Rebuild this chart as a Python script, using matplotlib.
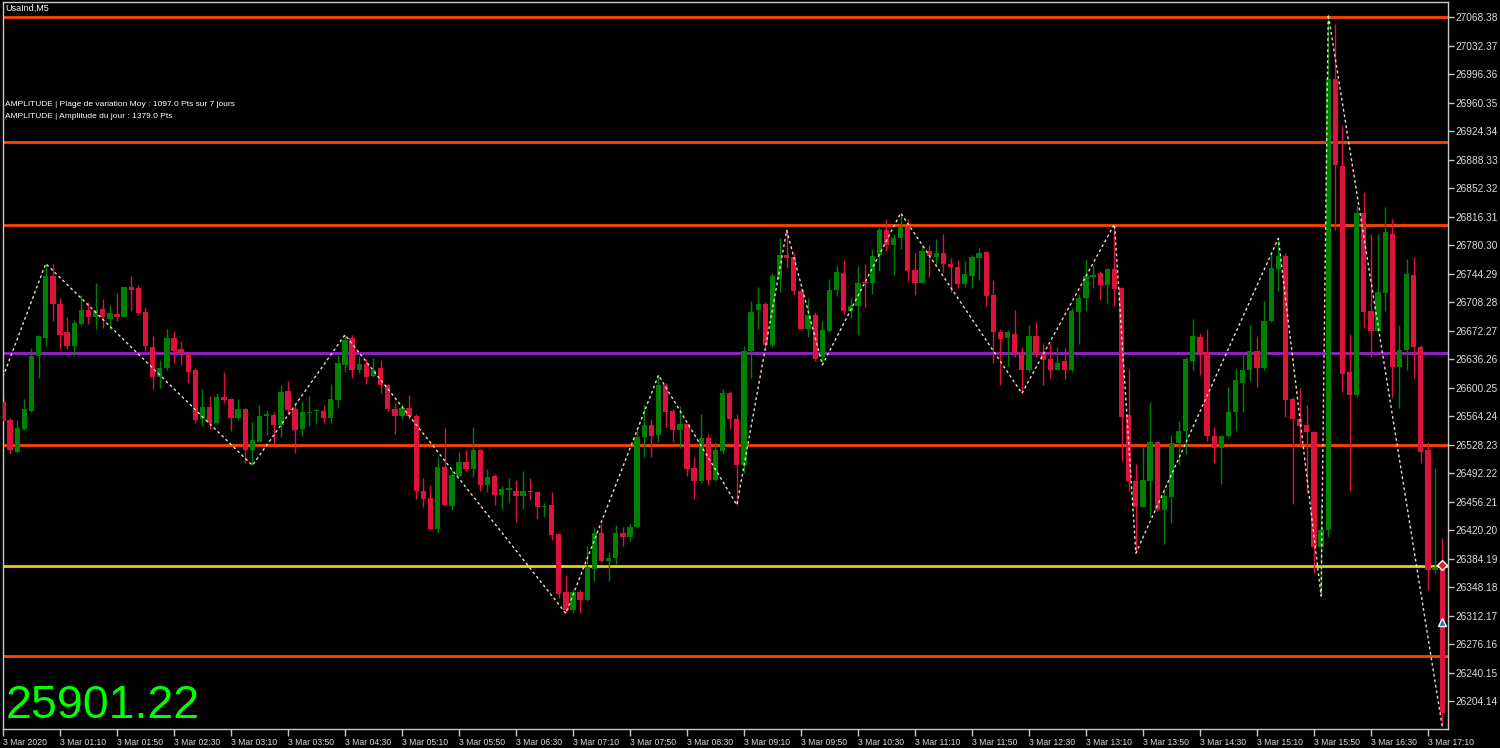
import numpy as np
import matplotlib
matplotlib.use("Agg")
import matplotlib.pyplot as plt

# bougies M5 UsaInd du 3 mars 2020
opens = [26582, 26559, 26519, 26548, 26571, 26640, 26663, 26741, 26706, 26670,
         26653, 26681, 26698, 26689, 26700, 26687, 26693, 26690, 26727, 26726,
         26696, 26652, 26614, 26625, 26663, 26649, 26643, 26623, 26560, 26576,
         26556, 26588, 26586, 26562, 26573, 26521, 26532, 26564, 26566, 26553,
         26596, 26573, 26548, 26568, 26571, 26571, 26562, 26584, 26629, 26663,
         26623, 26630, 26615, 26625, 26603, 26573, 26564, 26574, 26564, 26470,
         26461, 26422, 26500, 26451, 26489, 26506, 26498, 26521, 26477, 26488,
         26464, 26471, 26470, 26463, 26470, 26468, 26449, 26452, 26415, 26342,
         26319, 26342, 26332, 26371, 26416, 26381, 26385, 26416, 26411, 26424,
         26538, 26553, 26540, 26603, 26571, 26547, 26554, 26499, 26482, 26537,
         26483, 26520, 26593, 26561, 26502, 26646, 26698, 26706, 26654, 26738,
         26768, 26765, 26723, 26675, 26692, 26639, 26672, 26724, 26745, 26697,
         26703, 26734, 26733, 26768, 26799, 26781, 26789, 26803, 26749, 26733,
         26773, 26766, 26771, 26756, 26753, 26731, 26741, 26764, 26772, 26717,
         26670, 26663, 26668, 26644, 26622, 26666, 26644, 26636, 26623, 26634,
         26622, 26696, 26714, 26740, 26745, 26730, 26750, 26726, 26566, 26482,
         26450, 26482, 26532, 26446, 26462, 26530, 26545, 26634, 26664, 26645,
         26539, 26524, 26539, 26569, 26606, 26622, 26647, 26625, 26684, 26750,
         26767, 26586, 26561, 26553, 26544, 26399, 26420, 26990, 26880, 26620,
         26591, 26821, 26697, 26672, 26720, 26794, 26626, 26648, 26742, 26651,
         26521, 26370, 26375]
highs = [26590, 26562, 26559, 26586, 26650, 26667, 26757, 26757, 26714, 26689,
         26686, 26717, 26709, 26733, 26712, 26705, 26720, 26728, 26741, 26730,
         26702, 26665, 26635, 26674, 26672, 26659, 26644, 26625, 26598, 26590,
         26594, 26620, 26587, 26586, 26574, 26557, 26578, 26572, 26569, 26603,
         26609, 26579, 26583, 26590, 26573, 26578, 26605, 26642, 26667, 26667,
         26640, 26636, 26638, 26635, 26605, 26581, 26579, 26591, 26567, 26486,
         26477, 26512, 26549, 26496, 26519, 26521, 26550, 26523, 26498, 26491,
         26476, 26486, 26483, 26495, 26486, 26470, 26454, 26468, 26416, 26363,
         26346, 26344, 26400, 26424, 26428, 26392, 26427, 26424, 26428, 26550,
         26578, 26560, 26616, 26606, 26573, 26577, 26556, 26512, 26567, 26542,
         26531, 26599, 26596, 26567, 26653, 26710, 26727, 26709, 26745, 26790,
         26799, 26771, 26726, 26714, 26696, 26685, 26737, 26754, 26762, 26714,
         26754, 26756, 26776, 26803, 26813, 26795, 26821, 26813, 26770, 26781,
         26780, 26788, 26795, 26764, 26762, 26760, 26768, 26777, 26773, 26736,
         26675, 26673, 26698, 26652, 26679, 26683, 26657, 26656, 26651, 26650,
         26701, 26719, 26763, 26755, 26748, 26751, 26807, 26728, 26624, 26504,
         26525, 26582, 26533, 26474, 26541, 26558, 26639, 26687, 26669, 26675,
         26551, 26540, 26601, 26625, 26641, 26679, 26664, 26710, 26770, 26789,
         26771, 26589, 26600, 26578, 26545, 26453, 27072, 27060, 26932, 26668,
         26831, 26847, 26794, 26795, 26828, 26813, 26679, 26763, 26766, 26654,
         26532, 26499, 26410]
lows = [26555, 26516, 26518, 26547, 26570, 26612, 26653, 26684, 26649, 26649,
        26640, 26679, 26681, 26675, 26676, 26673, 26684, 26689, 26697, 26692,
        26646, 26599, 26600, 26622, 26632, 26629, 26606, 26555, 26552, 26548,
        26554, 26581, 26545, 26561, 26505, 26502, 26531, 26540, 26528, 26538,
        26567, 26518, 26539, 26552, 26555, 26556, 26555, 26574, 26620, 26612,
        26619, 26605, 26614, 26594, 26571, 26542, 26560, 26560, 26459, 26449,
        26420, 26416, 26451, 26446, 26488, 26495, 26487, 26469, 26468, 26452,
        26447, 26455, 26431, 26447, 26458, 26434, 26437, 26408, 26334, 26315,
        26315, 26316, 26330, 26356, 26380, 26356, 26377, 26400, 26407, 26423,
        26513, 26512, 26531, 26550, 26531, 26524, 26489, 26459, 26480, 26477,
        26482, 26516, 26548, 26452, 26492, 26613, 26674, 26651, 26652, 26721,
        26752, 26717, 26673, 26664, 26634, 26629, 26670, 26716, 26693, 26688,
        26667, 26702, 26718, 26748, 26773, 26743, 26776, 26735, 26717, 26732,
        26740, 26754, 26747, 26721, 26726, 26727, 26726, 26736, 26703, 26632,
        26604, 26627, 26639, 26593, 26620, 26639, 26604, 26613, 26622, 26611,
        26620, 26656, 26697, 26726, 26711, 26707, 26703, 26507, 26469, 26391,
        26449, 26437, 26444, 26403, 26429, 26502, 26517, 26622, 26616, 26533,
        26505, 26479, 26538, 26547, 26570, 26609, 26601, 26623, 26683, 26723,
        26563, 26453, 26528, 26467, 26366, 26337, 26411, 26799, 26595, 26469,
        26588, 26676, 26639, 26670, 26697, 26588, 26575, 26623, 26613, 26505,
        26344, 26366, 26172]
closes = [26558, 26521, 26549, 26573, 26640, 26665, 26741, 26706, 26667, 26653,
          26682, 26698, 26689, 26699, 26689, 26694, 26689, 26727, 26724, 26694,
          26653, 26614, 26625, 26663, 26647, 26644, 26620, 26559, 26576, 26556,
          26589, 26585, 26562, 26573, 26521, 26534, 26564, 26567, 26553, 26595,
          26572, 26547, 26569, 26570, 26572, 26562, 26586, 26631, 26661, 26623,
          26630, 26614, 26623, 26604, 26573, 26564, 26575, 26564, 26469, 26459,
          26421, 26500, 26452, 26490, 26506, 26498, 26521, 26477, 26487, 26464,
          26472, 26473, 26463, 26470, 26468, 26449, 26451, 26414, 26340, 26319,
          26342, 26332, 26373, 26416, 26381, 26385, 26416, 26411, 26424, 26538,
          26553, 26539, 26604, 26569, 26547, 26554, 26498, 26482, 26536, 26483,
          26521, 26594, 26561, 26502, 26647, 26696, 26706, 26654, 26741, 26768,
          26764, 26723, 26674, 26692, 26636, 26673, 26724, 26746, 26697, 26703,
          26732, 26733, 26767, 26799, 26781, 26789, 26803, 26748, 26733, 26773,
          26767, 26770, 26756, 26753, 26731, 26744, 26766, 26771, 26716, 26670,
          26662, 26670, 26643, 26622, 26666, 26643, 26635, 26623, 26632, 26622,
          26697, 26714, 26741, 26742, 26730, 26750, 26725, 26563, 26482, 26450,
          26483, 26532, 26446, 26463, 26530, 26545, 26636, 26665, 26644, 26539,
          26524, 26539, 26569, 26610, 26622, 26646, 26625, 26685, 26751, 26767,
          26584, 26561, 26552, 26544, 26399, 26420, 26990, 26882, 26618, 26591,
          26821, 26696, 26672, 26721, 26797, 26626, 26648, 26744, 26651, 26519,
          26370, 26374, 26189]

# sommets du zigzag (indice de bougie, prix)
zz_idx = [0, 6, 35, 48, 79, 92, 103, 110, 115, 126, 143, 156, 159, 179, 185, 186, 202]
zz_price = [26614, 26757, 26502, 26667, 26315, 26616, 26452, 26799, 26629,
            26821, 26593, 26807, 26391, 26789, 26337, 27072, 26172]

# niveaux horizontaux
levels_orange = [27068.38, 26911.2, 26805.9, 26528.2, 26261.5]
level_purple = 26643.7
level_yellow = 26375.2

# marqueurs de la derniere bougie
sell_price = 26376
buy_price = 26304

ytick_vals = [27068.38, 27032.37, 26996.36, 26960.35, 26924.34, 26888.33,
              26852.32, 26816.31, 26780.30, 26744.29, 26708.28, 26672.27,
              26636.26, 26600.25, 26564.24, 26528.23, 26492.22, 26456.21,
              26420.20, 26384.19, 26348.18, 26312.17, 26276.16, 26240.15,
              26204.14]
xtick_labels = ["3 Mar 2020", "3 Mar 01:10", "3 Mar 01:50", "3 Mar 02:30",
                "3 Mar 03:10", "3 Mar 03:50", "3 Mar 04:30", "3 Mar 05:10",
                "3 Mar 05:50", "3 Mar 06:30", "3 Mar 07:10", "3 Mar 07:50",
                "3 Mar 08:30", "3 Mar 09:10", "3 Mar 09:50", "3 Mar 10:30",
                "3 Mar 11:10", "3 Mar 11:50", "3 Mar 12:30", "3 Mar 13:10",
                "3 Mar 13:50", "3 Mar 14:30", "3 Mar 15:10", "3 Mar 15:50",
                "3 Mar 16:30", "3 Mar 17:10"]


def main():
    plt.rcParams['font.family'] = ['Liberation Sans', 'DejaVu Sans']
    W, H = 1500, 748
    fig = plt.figure(figsize=(W / 100, H / 100), dpi=100, facecolor='black')
    ax = fig.add_axes([2.5 / W, (H - 729.3) / H, (1448 - 2.5) / W, (729.3 - 2) / H])
    ax.set_facecolor('black')

    o = np.array(opens, float)
    c = np.array(closes, float)
    hi = np.array(highs, float)
    lo = np.array(lows, float)
    x = np.arange(len(o))
    up = c >= o
    cols = np.where(up, '#008000', '#dc143c')

    # niveaux
    for lv in levels_orange:
        ax.axhline(lv, color='#ff4500', lw=2, zorder=1)
    ax.axhline(level_purple, color='#9a1fd0', lw=2, zorder=1)
    ax.axhline(level_yellow, color='#e8d200', lw=2, zorder=1)

    # bougies
    ax.vlines(x, lo, hi, colors=cols, lw=1, zorder=2)
    bottoms = np.minimum(o, c)
    heights = np.maximum(np.abs(c - o), 1.4)
    ax.bar(x, heights, bottom=bottoms, width=0.74, color=cols, linewidth=0, zorder=3)

    # zigzag
    ax.plot(zz_idx, zz_price, color='#e8dcc6', lw=1, linestyle=(0, (2, 2)), zorder=4)

    ax.plot([x[-1]], [sell_price], marker='D', ms=5, color='#e0202a',
            markeredgecolor='white', markeredgewidth=1, zorder=5)
    ax.plot([x[-1]], [buy_price], marker='^', ms=6, color='#1e6fd0',
            markeredgecolor='white', markeredgewidth=1, zorder=5)

    ax.set_xlim(-0.07, 202.81)
    ax.set_ylim(26168.4, 27087.7)

    for sp in ax.spines.values():
        sp.set_color('#c8c8c8')
        sp.set_linewidth(1)

    ax.yaxis.tick_right()
    ax.set_yticks(ytick_vals)
    ax.set_yticklabels([f"{v:.2f}" for v in ytick_vals])
    ax.tick_params(axis='y', direction='out', length=4, width=1, color='#c8c8c8',
                   labelcolor='#dcdcdc', labelsize=7.3, pad=1)

    ax.set_xticks(range(0, 8 * len(xtick_labels), 8))
    ax.set_xticklabels(xtick_labels)
    ax.tick_params(axis='x', direction='out', length=5, width=1, color='#c8c8c8',
                   labelcolor='#dcdcdc', labelsize=6.2, pad=1)
    for lab in ax.get_xticklabels():
        lab.set_horizontalalignment('left')

    # textes
    fig.text(5 / W, 1 - 8 / H, "UsaInd,M5", color='white', fontsize=6.5, va='center')
    fig.text(5 / W, 1 - 105 / H, "AMPLITUDE | Plage de variation Moy : 1097.0 Pts sur 7 jours",
             color='white', fontsize=6, va='center')
    fig.text(5 / W, 1 - 116 / H, "AMPLITUDE | Amplitude du jour : 1379.0 Pts",
             color='white', fontsize=6, va='center')
    fig.text(6 / W, 1 - 718 / H, "25901.22", color='#00ff00', fontsize=33.5, va='baseline')

    fig.savefig("out.png", dpi=100, facecolor='black')


main()
